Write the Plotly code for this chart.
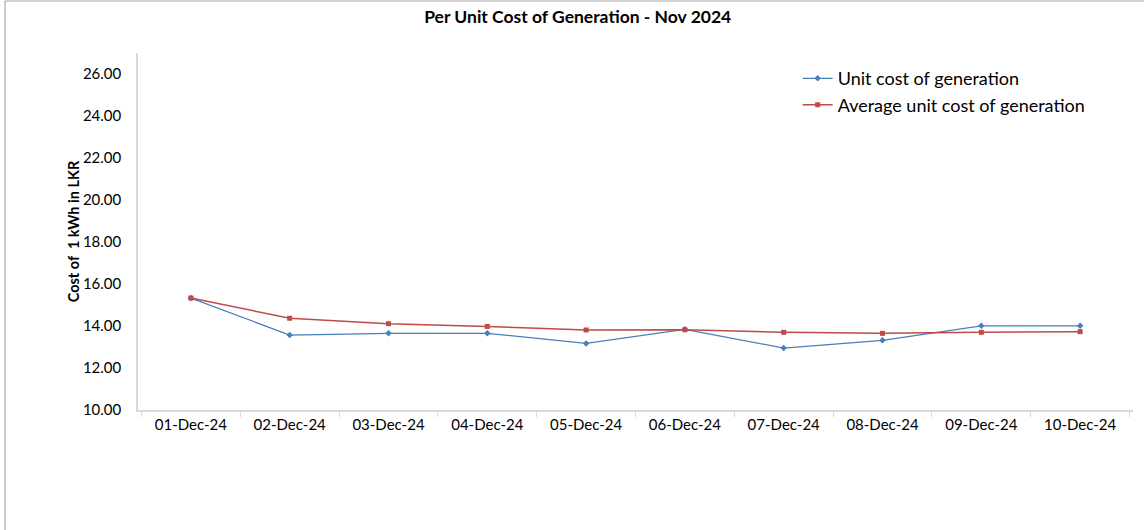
import plotly.graph_objects as go

dates = ["01-Dec-24", "02-Dec-24", "03-Dec-24", "04-Dec-24", "05-Dec-24",
         "06-Dec-24", "07-Dec-24", "08-Dec-24", "09-Dec-24", "10-Dec-24"]
unit_cost = [15.33, 13.57, 13.65, 13.65, 13.17, 13.84, 12.95, 13.32, 14.01, 14.01]
avg_cost = [15.33, 14.37, 14.11, 13.98, 13.81, 13.82, 13.70, 13.65, 13.70, 13.73]
y_ticks = [10, 12, 14, 16, 18, 20, 22, 24, 26]

FONT = "Lato, Carlito, Calibri, sans-serif"

fig = go.Figure()
fig.add_trace(go.Scatter(
    x=dates, y=unit_cost, name="Unit cost of generation", mode="lines+markers",
    line=dict(color="#4a7ebb", width=1.3),
    marker=dict(symbol="diamond", size=5, color="#4a7ebb"),
))
fig.add_trace(go.Scatter(
    x=dates, y=avg_cost, name="Average unit cost of generation", mode="lines+markers",
    line=dict(color="#be4b48", width=1.5),
    marker=dict(symbol="square", size=5, color="#be4b48"),
))

frame_left = -133 / 995
frame_top = 1 + 52 / 357

fig.update_layout(
    width=1144, height=530,
    paper_bgcolor="white", plot_bgcolor="white",
    margin=dict(l=138, r=11, t=53, b=120),
    font=dict(family=FONT, size=15, color="#000000"),
    title=dict(text="<b>Per Unit Cost of Generation - Nov 2024</b>",
               x=0.505, xanchor="center", y=0.968, yanchor="middle",
               font=dict(size=17.5, family=FONT)),
    showlegend=True,
    legend=dict(x=0.663, y=0.98, xanchor="left", yanchor="top",
                font=dict(size=18, family=FONT), bgcolor="rgba(0,0,0,0)",
                tracegroupgap=0, itemwidth=30),
    xaxis=dict(type="category", showgrid=False, showline=True, linecolor="#d9d9d9",
               linewidth=1.5, ticks="outside", tickson="boundaries", ticklen=5,
               tickcolor="#d9d9d9", tickfont=dict(size=15)),
    yaxis=dict(range=[10, 27], tickvals=y_ticks, ticktext=[f"{v:.2f}" for v in y_ticks],
               showgrid=False, showline=True, linecolor="#d9d9d9", linewidth=1.5,
               ticks="", tickfont=dict(size=15), zeroline=False, ticklabelstandoff=12,
               title=dict(text="<b>Cost of  1 kWh in LKR</b>", font=dict(size=14.5), standoff=0)),
    shapes=[
        dict(type="line", xref="paper", yref="paper", x0=frame_left, x1=frame_left,
             y0=-0.5, y1=frame_top, line=dict(color="#a6a6a6", width=1.2)),
        dict(type="line", xref="paper", yref="paper", x0=frame_left, x1=1.5,
             y0=frame_top, y1=frame_top, line=dict(color="#a6a6a6", width=1.2)),
    ],
)

fig.write_html("out.html", config={"displayModeBar": False},
               post_script="document.body.style.margin='0';")
